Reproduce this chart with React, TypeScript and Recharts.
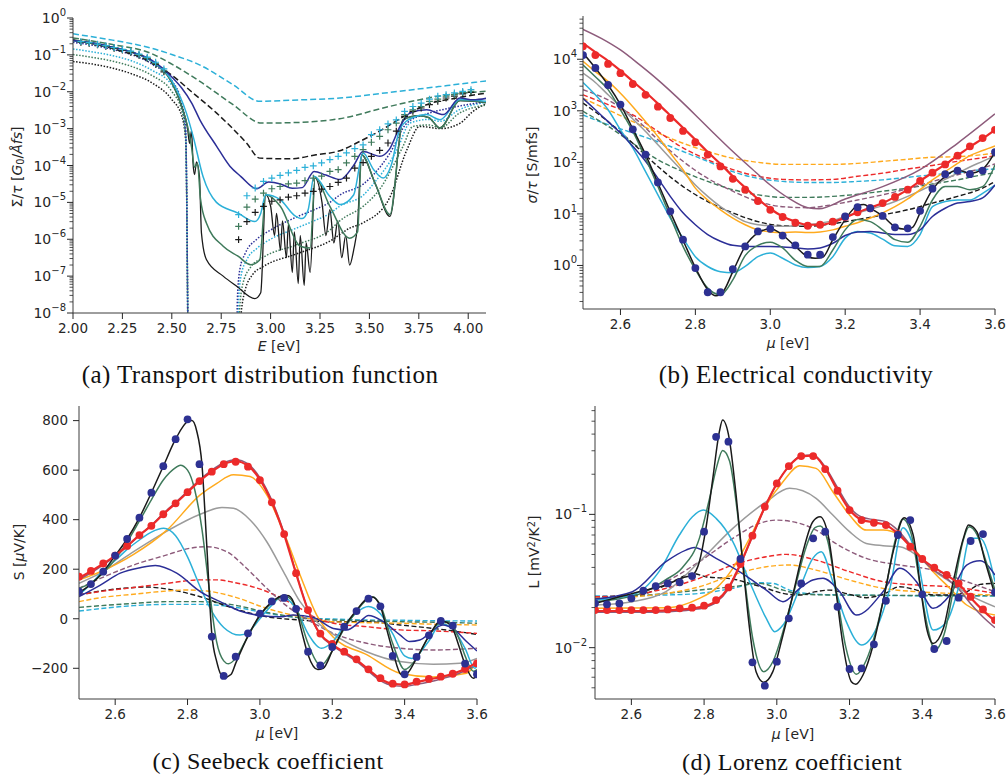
import React from 'react'
import { ComposedChart, Line, XAxis, YAxis } from 'recharts'

type Pt = [number, number]

// shared chemical-potential grid of the marker series (b, c, d)
const MU = [2.5, 2.533, 2.567, 2.6, 2.633, 2.667, 2.7, 2.733, 2.767, 2.8, 2.833, 2.867, 2.9, 2.933, 2.967, 3.0, 3.033, 3.067, 3.1, 3.133, 3.167, 3.2, 3.233, 3.267, 3.3, 3.333, 3.367, 3.4, 3.433, 3.467, 3.5, 3.533, 3.567, 3.6]
// coarser grid for the dashed curves of (b)
const MU_DASH = [2.5, 2.567, 2.633, 2.7, 2.767, 2.833, 2.9, 2.967, 3.033, 3.1, 3.167, 3.233, 3.3, 3.367, 3.433, 3.5, 3.567, 3.6]

// ---------- (a) transport distribution function, log10(Σ/τ) ----------
const aPlusE = [2.04, 2.082, 2.124, 2.166, 2.208, 2.25, 2.292, 2.334, 2.376, 2.418, 2.46, 2.838, 2.88, 2.922, 2.964, 3.006, 3.048, 3.09, 3.132, 3.174, 3.216, 3.258, 3.3, 3.342, 3.384, 3.426, 3.468, 3.51, 3.552, 3.594, 3.636, 3.678, 3.72, 3.762, 3.804, 3.846, 3.888, 3.93, 3.972, 4.014]
const aCyanPlus = [-0.64, -0.67, -0.71, -0.75, -0.8, -0.85, -0.9, -0.98, -1.06, -1.2, -1.38, -5.33, -4.82, -4.61, -4.43, -4.34, -4.27, -4.2, -4.13, -4.05, -4.01, -3.93, -3.84, -3.75, -3.66, -3.54, -3.44, -3.16, -3.03, -2.87, -2.76, -2.53, -2.4, -2.31, -2.2, -2.12, -2.08, -2.03, -1.99, -1.94]
const aGreenPlus = [-0.65, -0.68, -0.72, -0.76, -0.81, -0.86, -0.92, -1.0, -1.09, -1.24, -1.43, -5.65, -5.13, -4.91, -4.75, -4.63, -4.57, -4.5, -4.48, -4.41, -4.34, -4.29, -4.16, -4.11, -3.93, -3.75, -3.57, -3.37, -3.21, -3.03, -2.85, -2.62, -2.49, -2.4, -2.26, -2.2, -2.12, -2.08, -2.02, -1.99]
const aBlackPlus = [-0.66, -0.69, -0.73, -0.77, -0.82, -0.87, -0.93, -1.01, -1.1, -1.26, -1.46, -6.01, -5.52, -5.27, -5.11, -4.97, -4.93, -4.86, -4.82, -4.75, -4.7, -4.64, -4.57, -4.46, -4.34, -4.07, -3.92, -3.75, -3.59, -3.39, -3.07, -2.67, -2.53, -2.44, -2.35, -2.26, -2.17, -2.12, -2.06, -2.02]

const aCyanDash: Pt[] = [[2.0, -0.43], [2.2, -0.6], [2.39, -0.81], [2.5, -0.99], [2.64, -1.27], [2.81, -1.81], [2.945, -2.26], [3.1, -2.23], [3.35, -2.17], [3.6, -2.02], [3.85, -1.86], [4.1, -1.7]]
const aGreenDash: Pt[] = [[2.0, -0.54], [2.2, -0.72], [2.39, -0.95], [2.5, -1.25], [2.642, -1.72], [2.81, -2.35], [2.955, -2.85], [3.15, -2.83], [3.35, -2.73], [3.6, -2.4], [3.85, -2.12], [4.1, -1.98]]
const aBlackDash: Pt[] = [[2.0, -0.59], [2.2, -0.83], [2.39, -1.18], [2.5, -1.55], [2.6, -2.0], [2.727, -2.58], [2.878, -3.39], [2.945, -3.8], [3.097, -3.82], [3.23, -3.71], [3.35, -3.6], [3.45, -3.35], [3.55, -3.07], [3.69, -2.62], [3.79, -2.35], [3.94, -2.17], [4.1, -2.03]]

const aNavy: Pt[] = [[2.0, -0.61], [2.1, -0.68], [2.2, -0.79], [2.3, -0.93], [2.4, -1.15], [2.5, -1.6], [2.55, -1.9], [2.6, -2.3], [2.642, -2.76], [2.727, -3.48], [2.794, -4.02], [2.85, -4.3], [2.93, -4.63], [2.99, -4.45], [3.05, -4.5], [3.11, -4.62], [3.16, -4.6], [3.22, -4.16], [3.28, -4.26], [3.352, -4.38], [3.42, -4.0], [3.468, -3.62], [3.553, -3.75], [3.6, -3.57], [3.655, -2.94], [3.705, -2.58], [3.79, -2.49], [3.874, -2.62], [3.958, -2.17], [4.025, -2.22], [4.1, -2.17]]
const aCyan: Pt[] = [[2.0, -0.61], [2.1, -0.68], [2.2, -0.79], [2.3, -0.93], [2.4, -1.17], [2.5, -1.7], [2.574, -2.58], [2.608, -3.21], [2.658, -4.3], [2.726, -5.0], [2.835, -5.29], [2.92, -5.52], [2.95, -5.3], [2.975, -4.79], [3.05, -4.93], [3.12, -5.35], [3.16, -5.44], [3.19, -5.2], [3.22, -4.29], [3.3, -4.84], [3.352, -5.06], [3.42, -4.8], [3.468, -3.66], [3.52, -4.1], [3.57, -4.34], [3.61, -4.0], [3.655, -3.0], [3.72, -2.7], [3.79, -2.62], [3.857, -2.76], [3.958, -2.21], [4.1, -2.26]]
const aGreen: Pt[] = [[2.0, -0.61], [2.1, -0.68], [2.2, -0.79], [2.3, -0.93], [2.4, -1.18], [2.5, -1.75], [2.55, -2.4], [2.58, -2.94], [2.6, -3.5], [2.615, -4.05], [2.63, -3.95], [2.645, -4.9], [2.675, -5.56], [2.76, -6.19], [2.835, -6.46], [2.9, -6.69], [2.945, -6.56], [2.975, -4.79], [3.05, -5.11], [3.15, -6.19], [3.2, -6.24], [3.225, -4.34], [3.3, -5.11], [3.4, -5.97], [3.44, -5.8], [3.46, -3.71], [3.53, -4.5], [3.604, -5.33], [3.67, -2.76], [3.75, -2.65], [3.8, -2.7], [3.857, -2.98], [3.958, -2.24], [4.1, -2.3]]
const aBlack: Pt[] = [[2.0, -0.61], [2.1, -0.68], [2.2, -0.79], [2.3, -0.93], [2.4, -1.18], [2.5, -1.75], [2.55, -2.4], [2.58, -3.0], [2.59, -3.4], [2.6, -3.05], [2.607, -3.9], [2.615, -4.25], [2.625, -3.9], [2.64, -4.3], [2.65, -5.83], [2.675, -6.55], [2.76, -7.0], [2.83, -7.28], [2.92, -7.61], [2.95, -7.45], [2.975, -4.79], [3.0, -5.1], [3.02, -5.9], [3.03, -5.3], [3.05, -6.3], [3.06, -5.5], [3.08, -6.5], [3.09, -5.6], [3.11, -6.9], [3.12, -5.8], [3.14, -7.2], [3.15, -5.9], [3.17, -7.25], [3.18, -6.1], [3.2, -6.9], [3.225, -4.34], [3.26, -5.0], [3.28, -5.9], [3.3, -5.2], [3.32, -6.1], [3.34, -5.5], [3.36, -6.5], [3.38, -5.9], [3.4, -6.7], [3.42, -6.3], [3.44, -5.6], [3.46, -3.71], [3.53, -4.5], [3.604, -5.38], [3.67, -2.76], [3.75, -2.65], [3.8, -2.7], [3.857, -2.98], [3.958, -2.24], [4.1, -2.3]]

const aNavyDotL: Pt[] = [[2.0, -0.66], [2.1, -0.74], [2.2, -0.85], [2.3, -1.0], [2.4, -1.25], [2.5, -1.7], [2.55, -2.3], [2.57, -3.0], [2.582, -9]]
const aCyanDotL: Pt[] = [[2.0, -0.84], [2.1, -0.92], [2.2, -1.02], [2.3, -1.17], [2.4, -1.42], [2.5, -1.82], [2.55, -2.4], [2.57, -3.1], [2.582, -9]]
const aGreenDotL: Pt[] = [[2.0, -0.99], [2.1, -1.07], [2.2, -1.17], [2.3, -1.32], [2.4, -1.56], [2.5, -1.99], [2.55, -2.5], [2.57, -3.2], [2.582, -9]]
const aBlackDotL: Pt[] = [[2.0, -1.18], [2.1, -1.25], [2.2, -1.36], [2.3, -1.52], [2.4, -1.76], [2.5, -2.21], [2.55, -2.65], [2.57, -3.3], [2.582, -9]]
const aNavyDotR: Pt[] = [[2.828, -9], [2.832, -7.6], [2.845, -6.8], [2.87, -6.4], [2.93, -6.0], [3.0, -5.75], [3.13, -5.4], [3.22, -5.2], [3.3, -5.0], [3.35, -4.8], [3.47, -4.5], [3.52, -4.25], [3.6, -3.7], [3.69, -2.85], [3.79, -2.6], [3.9, -2.45], [4.1, -2.26]]
const aCyanDotR: Pt[] = [[2.833, -9], [2.837, -7.8], [2.85, -7.0], [2.88, -6.55], [2.93, -6.25], [3.0, -6.0], [3.13, -5.7], [3.22, -5.5], [3.3, -5.3], [3.35, -5.1], [3.47, -4.8], [3.52, -4.5], [3.64, -3.57], [3.705, -2.85], [3.8, -2.75], [3.86, -2.8], [3.95, -2.5], [4.1, -2.28]]
const aGreenDotR: Pt[] = [[2.838, -9], [2.842, -8.0], [2.86, -7.2], [2.9, -6.75], [2.96, -6.5], [3.13, -6.15], [3.3, -5.75], [3.35, -5.5], [3.47, -5.1], [3.55, -4.66], [3.67, -3.48], [3.72, -2.94], [3.8, -2.9], [3.86, -2.98], [3.95, -2.6], [4.1, -2.35]]
const aBlackDotR: Pt[] = [[2.843, -9], [2.848, -8.2], [2.87, -7.4], [2.91, -6.95], [2.96, -6.75], [3.13, -6.4], [3.3, -6.05], [3.4, -5.7], [3.47, -5.55], [3.6, -4.9], [3.69, -3.57], [3.755, -2.94], [3.86, -3.0], [3.96, -2.85], [4.02, -2.55], [4.1, -2.3]]

// ---------- (b) electrical conductivity, log10(σ/τ) ----------
const bRedDots = [4.25, 4.08, 3.91, 3.73, 3.52, 3.31, 3.08, 2.86, 2.61, 2.39, 2.15, 1.92, 1.68, 1.47, 1.25, 1.08, 0.94, 0.83, 0.77, 0.79, 0.85, 0.94, 1.03, 1.11, 1.21, 1.33, 1.47, 1.64, 1.8, 1.96, 2.13, 2.31, 2.47, 2.63]
const bNavyDots = [4.08, 3.83, 3.5, 3.12, 2.64, 2.15, 1.61, 1.05, 0.5, -0.05, -0.52, -0.52, -0.07, 0.37, 0.66, 0.71, 0.58, 0.39, 0.21, 0.21, 0.55, 0.95, 1.13, 1.11, 0.96, 0.74, 0.72, 1.06, 1.49, 1.77, 1.84, 1.77, 1.84, 2.2]
const bRed = [4.31, 4.14, 3.97, 3.78, 3.57, 3.36, 3.14, 2.91, 2.67, 2.44, 2.2, 1.97, 1.73, 1.51, 1.29, 1.1, 0.95, 0.85, 0.79, 0.79, 0.84, 0.93, 1.03, 1.12, 1.21, 1.33, 1.47, 1.64, 1.8, 1.96, 2.13, 2.3, 2.46, 2.63]
const bGreen = [3.89, 3.66, 3.41, 3.02, 2.6, 2.08, 1.53, 0.95, 0.37, -0.08, -0.44, -0.57, -0.28, 0.19, 0.39, 0.45, 0.34, 0.1, -0.02, -0.02, 0.3, 0.69, 0.89, 0.85, 0.69, 0.5, 0.45, 0.76, 1.27, 1.53, 1.53, 1.47, 1.53, 1.95]
const bCyan = [3.55, 3.31, 3.02, 2.63, 2.28, 1.82, 1.37, 0.92, 0.53, 0.17, -0.02, -0.12, -0.14, -0.02, 0.17, 0.24, 0.14, 0.01, -0.04, -0.02, 0.17, 0.53, 0.66, 0.63, 0.51, 0.38, 0.37, 0.6, 1.14, 1.24, 1.27, 1.27, 1.4, 1.56]
const bNavy = [3.24, 3.02, 2.79, 2.57, 2.31, 2.02, 1.69, 1.34, 1.02, 0.79, 0.6, 0.47, 0.39, 0.37, 0.37, 0.37, 0.36, 0.34, 0.32, 0.34, 0.43, 0.58, 0.65, 0.66, 0.63, 0.6, 0.6, 0.69, 0.95, 1.11, 1.21, 1.24, 1.31, 1.56]
const bOrange = [3.96, 3.76, 3.57, 3.34, 3.08, 2.79, 2.5, 2.18, 1.86, 1.5, 1.27, 1.08, 0.92, 0.79, 0.69, 0.65, 0.64, 0.65, 0.64, 0.65, 0.69, 0.76, 0.83, 0.92, 1.02, 1.14, 1.29, 1.47, 1.66, 1.82, 1.98, 2.13, 2.23, 2.32]
const bGray = [3.73, 3.55, 3.31, 3.08, 2.84, 2.6, 2.34, 2.08, 1.82, 1.56, 1.34, 1.14, 0.98, 0.85, 0.79, 0.77, 0.76, 0.77, 0.79, 0.82, 0.87, 0.95, 1.02, 1.09, 1.16, 1.24, 1.34, 1.45, 1.56, 1.67, 1.79, 1.91, 2.02, 2.13]
const bBlack: Pt[] = [[2.5, 4.12], [2.533, 3.83], [2.567, 3.5], [2.6, 3.12], [2.633, 2.65], [2.667, 2.15], [2.7, 1.6], [2.733, 1.04], [2.767, 0.49], [2.8, -0.04], [2.833, -0.47], [2.855, -0.59], [2.875, -0.5], [2.9, -0.12], [2.933, 0.37], [2.967, 0.63], [3.0, 0.71], [3.033, 0.59], [3.067, 0.37], [3.1, 0.17], [3.12, 0.14], [3.14, 0.16], [3.167, 0.5], [3.2, 0.89], [3.233, 1.16], [3.25, 1.18], [3.267, 1.11], [3.3, 0.96], [3.333, 0.75], [3.36, 0.7], [3.38, 0.74], [3.4, 1.02], [3.433, 1.47], [3.467, 1.73], [3.5, 1.85], [3.533, 1.79], [3.567, 1.87], [3.6, 2.2]]
const bMauve: Pt[] = [[2.5, 4.58], [2.55, 4.4], [2.6, 4.18], [2.65, 3.9], [2.7, 3.6], [2.75, 3.27], [2.8, 2.92], [2.85, 2.56], [2.9, 2.21], [2.95, 1.88], [3.0, 1.56], [3.05, 1.3], [3.1, 1.12], [3.13, 1.1], [3.2, 1.29], [3.3, 1.53], [3.4, 1.86], [3.5, 2.37], [3.6, 2.94]]
const bOrangeDash = [3.24, 3.02, 2.79, 2.57, 2.37, 2.21, 2.08, 2.0, 1.96, 1.96, 1.96, 1.98, 2.02, 2.06, 2.1, 2.11, 2.15, 2.18]
const bRedDash = [3.31, 3.12, 2.92, 2.6, 2.28, 2.05, 1.86, 1.73, 1.67, 1.66, 1.67, 1.73, 1.79, 1.87, 1.94, 2.02, 2.09, 2.13]
const bCyanDash = [2.92, 2.73, 2.57, 2.4, 2.21, 2.02, 1.82, 1.69, 1.63, 1.61, 1.61, 1.63, 1.66, 1.71, 1.76, 1.8, 1.86, 1.87]
const bMauveDash = [3.41, 3.21, 2.89, 2.44, 2.02, 1.69, 1.44, 1.24, 1.14, 1.12, 1.18, 1.27, 1.37, 1.49, 1.63, 1.76, 1.89, 1.97]
const bGreenDash = [2.99, 2.7, 2.37, 2.05, 1.82, 1.63, 1.47, 1.37, 1.32, 1.32, 1.34, 1.38, 1.44, 1.5, 1.58, 1.66, 1.76, 1.8]
const bBlackDash = [3.15, 2.79, 2.37, 1.92, 1.53, 1.24, 1.02, 0.85, 0.77, 0.76, 0.81, 0.89, 0.98, 1.08, 1.21, 1.34, 1.5, 1.63]

// ---------- (c) Seebeck coefficient, μV/K ----------
const cNavyDots = [110, 140, 190, 255, 322, 408, 509, 616, 725, 805, 624, -72, -231, -153, -59, 21, 70, 84, 40, -133, -188, -114, -32, 31, 81, 50, -150, -224, -154, -67, -9, -28, -181, -224]
const cRedDots = [170, 193, 223, 255, 294, 338, 375, 422, 466, 511, 556, 594, 624, 634, 614, 560, 470, 342, 184, 35, -60, -102, -133, -164, -204, -240, -262, -265, -254, -243, -234, -222, -203, -180]
const cRed = [165, 192, 222, 255, 294, 338, 376, 422, 466, 511, 556, 594, 624, 636, 618, 562, 470, 340, 182, 35, -62, -104, -135, -166, -205, -242, -263, -266, -256, -245, -235, -222, -203, -175]
const cMauve = [158, 185, 218, 252, 292, 336, 378, 425, 470, 515, 560, 600, 630, 642, 625, 570, 478, 345, 185, 35, -65, -108, -140, -172, -212, -250, -270, -273, -265, -255, -243, -230, -210, -185]
const cBlack: Pt[] = [[2.5, 105], [2.533, 140], [2.567, 190], [2.6, 255], [2.633, 322], [2.667, 408], [2.7, 509], [2.733, 616], [2.767, 725], [2.8, 796], [2.812, 800], [2.825, 760], [2.84, 620], [2.853, 300], [2.867, -60], [2.881, -175], [2.9, -238], [2.92, -225], [2.933, -180], [2.967, -70], [3.0, 15], [3.033, 68], [3.067, 95], [3.08, 93], [3.1, 40], [3.117, -60], [3.133, -145], [3.16, -205], [3.175, -200], [3.2, -130], [3.233, -35], [3.267, 35], [3.3, 85], [3.31, 88], [3.333, 50], [3.35, -40], [3.367, -130], [3.39, -225], [3.4, -228], [3.433, -160], [3.467, -70], [3.5, -8], [3.517, -15], [3.533, -40], [3.55, -110], [3.567, -185], [3.59, -240], [3.6, -232]]
const cGreen: Pt[] = [[2.5, 123], [2.533, 145], [2.567, 185], [2.6, 240], [2.633, 310], [2.667, 395], [2.7, 480], [2.733, 560], [2.767, 610], [2.78, 620], [2.8, 600], [2.82, 520], [2.84, 360], [2.86, 120], [2.88, -90], [2.9, -170], [2.913, -182], [2.933, -160], [2.967, -70], [3.0, 12], [3.033, 65], [3.07, 92], [3.1, 45], [3.133, -100], [3.16, -180], [3.17, -187], [3.2, -130], [3.233, -40], [3.267, 30], [3.3, 82], [3.313, 88], [3.333, 55], [3.367, -100], [3.4, -205], [3.433, -160], [3.467, -70], [3.5, -14], [3.52, -12], [3.55, -80], [3.567, -150], [3.59, -212], [3.6, -205]]
const cCyan: Pt[] = [[2.5, 96], [2.533, 140], [2.567, 195], [2.6, 235], [2.633, 280], [2.667, 318], [2.7, 350], [2.734, 365], [2.767, 335], [2.8, 250], [2.833, 135], [2.867, 30], [2.9, -35], [2.945, -66], [2.967, -55], [3.0, 0], [3.033, 55], [3.06, 89], [3.1, 40], [3.133, -60], [3.17, -119], [3.2, -95], [3.233, -30], [3.267, 25], [3.3, 49], [3.333, 20], [3.367, -60], [3.4, -150], [3.42, -160], [3.467, -90], [3.5, -20], [3.533, -40], [3.567, -120], [3.594, -200], [3.6, -190]]
const cNavy: Pt[] = [[2.5, 89], [2.559, 136], [2.614, 184], [2.669, 206], [2.711, 215], [2.77, 184], [2.835, 110], [2.89, 69], [2.945, 31], [3.0, 13], [3.056, 8], [3.092, 15], [3.148, 5], [3.203, -39], [3.24, -45], [3.276, -12], [3.3, 13], [3.341, -12], [3.387, -65], [3.414, -92], [3.442, -86], [3.479, -45], [3.506, -25], [3.534, -40], [3.571, -92], [3.6, -130]]
const cOrange: Pt[] = [[2.5, 157], [2.559, 190], [2.651, 260], [2.743, 358], [2.835, 500], [2.881, 547], [2.927, 581], [2.973, 574], [3.019, 500], [3.065, 352], [3.111, 177], [3.157, 15], [3.203, -75], [3.295, -145], [3.387, -220], [3.479, -235], [3.571, -220], [3.6, -173]]
const cGray: Pt[] = [[2.5, 143], [2.559, 184], [2.651, 271], [2.743, 354], [2.835, 422], [2.895, 449], [2.927, 446], [2.973, 399], [3.019, 311], [3.065, 190], [3.111, 69], [3.157, -12], [3.203, -63], [3.295, -133], [3.387, -173], [3.479, -184], [3.552, -180], [3.6, -160]]
const cMauveDash: Pt[] = [[2.5, 123], [2.559, 163], [2.651, 217], [2.743, 258], [2.798, 282], [2.853, 291], [2.908, 271], [2.963, 204], [3.019, 123], [3.065, 62], [3.111, 15], [3.157, -25], [3.203, -59], [3.295, -99], [3.387, -119], [3.479, -126], [3.6, -119]]
const cRedDash: Pt[] = [[2.5, 96], [2.559, 110], [2.651, 126], [2.743, 143], [2.835, 157], [2.881, 157], [2.927, 147], [3.019, 110], [3.111, 42], [3.157, 2], [3.203, -18], [3.295, -32], [3.387, -45], [3.479, -49], [3.6, -59]]
const cBlackDash: Pt[] = [[2.5, 96], [2.559, 112], [2.651, 126], [2.688, 128], [2.743, 120], [2.835, 89], [2.927, 42], [3.019, 8], [3.111, -5], [3.203, -12], [3.295, -12], [3.387, -25], [3.479, -39], [3.6, -63]]
const cOrangeDash: Pt[] = [[2.5, 69], [2.559, 85], [2.651, 99], [2.743, 112], [2.798, 116], [2.853, 112], [2.927, 89], [3.019, 42], [3.111, 8], [3.203, -12], [3.295, -16], [3.387, -18], [3.479, -22], [3.6, -25]]
const cGreenDash: Pt[] = [[2.5, 46], [2.651, 62], [2.743, 69], [2.835, 69], [2.927, 56], [3.019, 26], [3.111, 4], [3.203, -5], [3.295, -8], [3.387, -12], [3.479, -14], [3.6, -18]]
const cCyanDash: Pt[] = [[2.5, 31], [2.651, 53], [2.743, 58], [2.835, 58], [2.927, 48], [3.019, 22], [3.111, 4], [3.203, -1], [3.295, -5], [3.387, -6], [3.479, -8], [3.6, -9]]

// ---------- (d) Lorenz coefficient, log10(L) ----------
const dNavyDots = [-1.668, -1.675, -1.668, -1.63, -1.573, -1.538, -1.518, -1.51, -1.463, -1.13, -0.418, -0.455, -1.335, -2.11, -2.285, -2.105, -1.78, -1.518, -1.18, -1.13, -1.693, -2.16, -2.155, -1.975, -1.648, -1.155, -1.043, -1.6, -2.01, -1.95, -1.625, -1.2, -1.148, -1.585]
const dRedDots = [-1.718, -1.718, -1.718, -1.718, -1.718, -1.718, -1.713, -1.705, -1.7, -1.685, -1.643, -1.548, -1.373, -1.16, -0.943, -0.768, -0.638, -0.563, -0.563, -0.66, -0.823, -0.968, -1.043, -1.063, -1.08, -1.148, -1.243, -1.335, -1.4, -1.455, -1.518, -1.618, -1.713, -1.793]
const dRed = [-1.725, -1.725, -1.725, -1.725, -1.725, -1.723, -1.72, -1.715, -1.705, -1.69, -1.65, -1.55, -1.37, -1.16, -0.945, -0.77, -0.64, -0.565, -0.56, -0.655, -0.82, -0.965, -1.04, -1.06, -1.08, -1.145, -1.24, -1.335, -1.4, -1.455, -1.52, -1.625, -1.72, -1.8]
const dMauve = [-1.735, -1.735, -1.735, -1.735, -1.735, -1.733, -1.73, -1.725, -1.715, -1.7, -1.66, -1.56, -1.38, -1.165, -0.95, -0.77, -0.64, -0.56, -0.555, -0.645, -0.8, -0.945, -1.02, -1.04, -1.055, -1.12, -1.23, -1.34, -1.42, -1.48, -1.56, -1.67, -1.77, -1.85]
const dBlack: Pt[] = [[2.5, -1.668], [2.621, -1.58], [2.695, -1.53], [2.741, -1.475], [2.768, -1.455], [2.787, -1.355], [2.805, -1.105], [2.824, -0.73], [2.842, -0.38], [2.851, -0.293], [2.869, -0.43], [2.888, -0.855], [2.906, -1.355], [2.925, -1.855], [2.943, -2.18], [2.964, -2.26], [2.989, -2.18], [3.017, -1.905], [3.044, -1.605], [3.072, -1.28], [3.099, -1.055], [3.119, -1.018], [3.141, -1.155], [3.164, -1.605], [3.182, -1.98], [3.205, -2.255], [3.217, -2.275], [3.237, -2.205], [3.265, -1.98], [3.292, -1.655], [3.32, -1.28], [3.35, -1.025], [3.375, -1.155], [3.393, -1.505], [3.412, -1.855], [3.43, -1.968], [3.458, -1.855], [3.485, -1.505], [3.513, -1.18], [3.527, -1.08], [3.55, -1.13], [3.573, -1.355], [3.6, -1.605]]
const dGreen: Pt[] = [[2.5, -1.655], [2.62, -1.6], [2.695, -1.49], [2.74, -1.4], [2.787, -1.18], [2.815, -0.88], [2.835, -0.64], [2.851, -0.52], [2.87, -0.6], [2.89, -0.95], [2.91, -1.45], [2.935, -1.95], [2.964, -2.18], [2.99, -2.1], [3.02, -1.85], [3.05, -1.55], [3.08, -1.25], [3.105, -1.1], [3.12, -1.088], [3.14, -1.2], [3.165, -1.6], [3.19, -2.0], [3.219, -2.2], [3.245, -2.1], [3.27, -1.9], [3.3, -1.55], [3.325, -1.2], [3.347, -1.035], [3.37, -1.15], [3.395, -1.55], [3.415, -1.85], [3.435, -2.018], [3.46, -1.9], [3.49, -1.5], [3.512, -1.2], [3.529, -1.093], [3.55, -1.15], [3.575, -1.35], [3.6, -1.568]]
const dCyan: Pt[] = [[2.5, -1.643], [2.603, -1.605], [2.676, -1.43], [2.732, -1.155], [2.768, -1.018], [2.798, -0.968], [2.833, -1.03], [2.879, -1.205], [2.925, -1.505], [2.971, -1.78], [2.994, -1.88], [3.017, -1.83], [3.063, -1.555], [3.099, -1.33], [3.122, -1.28], [3.154, -1.505], [3.191, -1.805], [3.233, -1.98], [3.274, -1.855], [3.311, -1.555], [3.347, -1.1], [3.384, -1.305], [3.43, -1.868], [3.467, -1.805], [3.504, -1.505], [3.531, -1.18], [3.559, -1.18], [3.6, -1.505]]
const dNavy: Pt[] = [[2.5, -1.635], [2.603, -1.58], [2.695, -1.355], [2.75, -1.268], [2.773, -1.248], [2.833, -1.33], [2.897, -1.43], [2.971, -1.568], [3.017, -1.655], [3.063, -1.555], [3.099, -1.493], [3.127, -1.48], [3.173, -1.58], [3.219, -1.755], [3.292, -1.58], [3.338, -1.405], [3.384, -1.505], [3.43, -1.705], [3.476, -1.605], [3.522, -1.38], [3.559, -1.348], [3.6, -1.455]]
const dOrange: Pt[] = [[2.5, -1.705], [2.7, -1.7], [2.787, -1.63], [2.833, -1.555], [2.879, -1.405], [2.925, -1.18], [2.971, -0.93], [3.017, -0.755], [3.063, -0.635], [3.108, -0.655], [3.154, -0.83], [3.2, -1.005], [3.246, -1.118], [3.292, -1.118], [3.338, -1.155], [3.384, -1.28], [3.43, -1.43], [3.476, -1.555], [3.522, -1.68], [3.6, -1.755]]
const dGray: Pt[] = [[2.5, -1.68], [2.603, -1.655], [2.695, -1.58], [2.787, -1.355], [2.879, -1.105], [2.971, -0.905], [3.035, -0.805], [3.108, -0.88], [3.154, -1.005], [3.2, -1.13], [3.246, -1.218], [3.292, -1.235], [3.338, -1.243], [3.384, -1.305], [3.43, -1.418], [3.476, -1.505], [3.522, -1.593], [3.6, -1.693]]
const dMauveDash: Pt[] = [[2.5, -1.63], [2.603, -1.605], [2.695, -1.505], [2.787, -1.355], [2.879, -1.18], [2.952, -1.068], [2.998, -1.043], [3.063, -1.068], [3.108, -1.118], [3.154, -1.205], [3.246, -1.33], [3.338, -1.38], [3.43, -1.418], [3.522, -1.505], [3.6, -1.58]]
const dRedDash: Pt[] = [[2.5, -1.618], [2.603, -1.605], [2.695, -1.555], [2.787, -1.48], [2.879, -1.38], [2.971, -1.318], [3.026, -1.3], [3.108, -1.343], [3.2, -1.43], [3.292, -1.505], [3.384, -1.53], [3.476, -1.543], [3.6, -1.593]]
const dOrangeDash: Pt[] = [[2.5, -1.625], [2.603, -1.618], [2.695, -1.593], [2.787, -1.543], [2.879, -1.455], [2.971, -1.393], [3.035, -1.38], [3.108, -1.418], [3.2, -1.493], [3.292, -1.555], [3.384, -1.58], [3.476, -1.593], [3.6, -1.605]]
const dBlackDash: Pt[] = [[2.5, -1.618], [2.603, -1.613], [2.676, -1.555], [2.722, -1.493], [2.768, -1.443], [2.805, -1.468], [2.879, -1.485], [2.925, -1.518], [2.971, -1.555], [3.017, -1.593], [3.063, -1.605], [3.108, -1.58], [3.145, -1.568], [3.2, -1.6], [3.246, -1.625], [3.292, -1.6], [3.338, -1.543], [3.384, -1.568], [3.43, -1.605], [3.476, -1.605], [3.522, -1.58], [3.559, -1.525], [3.6, -1.518]]
const dGreenDash: Pt[] = [[2.5, -1.618], [2.603, -1.613], [2.695, -1.593], [2.787, -1.568], [2.879, -1.543], [2.952, -1.518], [3.017, -1.568], [3.063, -1.598], [3.154, -1.605], [3.6, -1.61]]
const dCyanDash: Pt[] = [[2.5, -1.613], [2.603, -1.61], [2.695, -1.605], [2.787, -1.593], [2.879, -1.555], [2.952, -1.513], [2.989, -1.518], [3.035, -1.568], [3.108, -1.6], [3.2, -1.605], [3.6, -1.613]]

// ---------- styling ----------
const FONT = '"DejaVu Sans", sans-serif'
const SERIF = '"Liberation Serif", "DejaVu Serif", serif'
const INK = '#262626'
const SPINE = '#3c3c3c'

const C = {
  black: '#1a1a1a',
  green: '#3f7a5b',
  cyan: '#2cb0d8',
  navy: '#2b2e97',
  red: '#ec2a2a',
  mauve: '#8d5b7b',
  orange: '#ffaa1d',
  gray: '#9b9b9b',
  dot: '#2d3192',
}

type Row = { x: number; y: number }
const lin = (p: Pt[]): Row[] => p.map(([x, y]) => ({ x, y }))
const dec = (p: Pt[]): Row[] => p.map(([x, e]) => ({ x, y: Math.pow(10, e) }))
const zipLin = (xs: number[], ys: number[]): Row[] => xs.map((x, i) => ({ x, y: ys[i] }))
const zipDec = (xs: number[], es: number[]): Row[] => xs.map((x, i) => ({ x, y: Math.pow(10, es[i]) }))

interface Series {
  data: Row[]
  color: string
  dash?: string
  width?: number
  marker?: 'dot' | 'plus'
}

const DASH = '5 2.5'
const DASH_A = '6 3'
const DOT = '1.5 1.6'

function logTicks(lo: number, hi: number) {
  const out: number[] = []
  for (let d = Math.floor(Math.log10(lo)); d <= Math.ceil(Math.log10(hi)); d++) {
    for (let m = 1; m <= 9; m++) {
      const v = m * Math.pow(10, d)
      if (v >= lo * 0.999 && v <= hi * 1.001) out.push(v)
    }
  }
  return out
}

function LogTick(props: any) {
  const { x, y, payload, gap } = props
  const lg = Math.log10(payload.value)
  const e = Math.round(lg)
  const major = Math.abs(lg - e) < 1e-6
  return (
    <g>
      <line x1={x} x2={x - (major ? 6 : 3.5)} y1={y} y2={y} stroke={INK} strokeWidth={major ? 1 : 0.8} />
      {major && (
        <text x={x - gap} y={y} textAnchor="end" fill={INK} fontFamily={FONT} fontSize={14}>
          <tspan dy={5}>10</tspan>
          <tspan dy={-7} fontSize={10}>{e < 0 ? '\u2212' + -e : String(e)}</tspan>
        </text>
      )}
    </g>
  )
}

function Plus(props: any) {
  const { cx, cy, color } = props
  if (cx == null || cy == null || !isFinite(cy)) return <g />
  const h = 3.4
  return <path d={`M${cx - h},${cy}H${cx + h}M${cx},${cy - h}V${cy + h}`} stroke={color} strokeWidth={1.2} fill="none" />
}

interface PanelProps {
  left: number
  top: number
  width: number
  height: number
  plot: [number, number, number, number]
  xDomain: [number, number]
  xTicks: number[]
  xDigits: number
  yDomain: [number, number]
  yTicks: number[]
  log: boolean
  gap?: number
  series: Series[]
}

function Panel(p: PanelProps) {
  const [pl, pt, pr, pb] = p.plot
  return (
    <div style={{ position: 'absolute', left: p.left, top: p.top }}>
      <ComposedChart width={p.width} height={p.height} margin={{ top: pt, right: p.width - pr, bottom: 0, left: 0 }}>
        <XAxis
          dataKey="x"
          type="number"
          domain={p.xDomain}
          ticks={p.xTicks}
          interval={0}
          allowDataOverflow
          height={p.height - pb}
          tickSize={6}
          tickMargin={4}
          tickFormatter={(v: number) => v.toFixed(p.xDigits)}
          tick={{ fill: INK, fontSize: 13.5, fontFamily: FONT }}
          axisLine={{ stroke: SPINE }}
          tickLine={{ stroke: INK }}
        />
        <XAxis xAxisId="top" orientation="top" dataKey="x" type="number" domain={p.xDomain} allowDataOverflow height={0} tick={false} tickLine={false} axisLine={{ stroke: SPINE }} />
        {p.log ? (
          <YAxis
            type="number"
            scale="log"
            domain={p.yDomain}
            ticks={p.yTicks}
            interval={0}
            allowDataOverflow
            width={pl}
            tickSize={0}
            tickMargin={0}
            tickLine={false}
            axisLine={{ stroke: SPINE }}
            tick={(tp: any) => <LogTick {...tp} gap={p.gap ?? 7} />}
          />
        ) : (
          <YAxis
            type="number"
            domain={p.yDomain}
            ticks={p.yTicks}
            interval={0}
            allowDataOverflow
            width={pl}
            tickSize={6}
            tickMargin={5}
            tickFormatter={(v: number) => (v < 0 ? '\u2212' + -v : String(v))}
            tick={{ fill: INK, fontSize: 13.5, fontFamily: FONT }}
            axisLine={{ stroke: SPINE }}
            tickLine={{ stroke: INK }}
          />
        )}
        <YAxis yAxisId="right" orientation="right" type="number" domain={[0, 1]} width={0} tick={false} tickLine={false} axisLine={{ stroke: SPINE }} />
        {p.series.map((s, i) => (
          <Line
            key={i}
            data={s.data}
            dataKey="y"
            type="monotone"
            stroke={s.marker ? 'none' : s.color}
            strokeWidth={s.width ?? 1.5}
            strokeDasharray={s.dash}
            isAnimationActive={false}
            activeDot={false}
            legendType="none"
            dot={
              s.marker === 'dot'
                ? { r: 3.9, fill: s.color, stroke: 'none' }
                : s.marker === 'plus'
                ? (dp: any) => <Plus key={dp.index} {...dp} color={s.color} />
                : false
            }
          />
        ))}
      </ComposedChart>
    </div>
  )
}

function Txt(props: { x: number; y: number; rotate?: boolean; size: number; serif?: boolean; children: React.ReactNode }) {
  return (
    <div
      style={{
        position: 'absolute',
        left: props.x,
        top: props.y,
        transform: `translate(-50%, -50%)${props.rotate ? ' rotate(-90deg)' : ''}`,
        whiteSpace: 'nowrap',
        fontFamily: props.serif ? SERIF : FONT,
        fontSize: props.size,
        letterSpacing: props.serif ? 0.45 : 0,
        color: props.serif ? '#111' : INK,
        lineHeight: 1,
      }}
    >
      {props.children}
    </div>
  )
}

const sub = { fontSize: '0.7em', verticalAlign: '-0.25em' }
const sup = { fontSize: '0.7em', verticalAlign: '0.45em' }

const seriesA: Series[] = [
  { data: dec(aBlackDotL), color: C.black, dash: DOT },
  { data: dec(aGreenDotL), color: C.green, dash: DOT },
  { data: dec(aCyanDotL), color: C.cyan, dash: DOT },
  { data: dec(aNavyDotL), color: C.navy, dash: DOT },
  { data: dec(aBlackDotR), color: C.black, dash: DOT },
  { data: dec(aGreenDotR), color: C.green, dash: DOT },
  { data: dec(aCyanDotR), color: C.cyan, dash: DOT },
  { data: dec(aNavyDotR), color: C.navy, dash: DOT },
  { data: dec(aBlackDash), color: C.black, dash: DASH_A },
  { data: dec(aGreenDash), color: C.green, dash: DASH_A },
  { data: dec(aCyanDash), color: C.cyan, dash: DASH_A },
  { data: dec(aBlack), color: C.black, width: 1.3 },
  { data: dec(aGreen), color: C.green, width: 1.5 },
  { data: dec(aCyan), color: C.cyan, width: 1.5 },
  { data: dec(aNavy), color: C.navy, width: 1.5 },
  { data: zipDec(aPlusE, aBlackPlus), color: C.black, marker: 'plus' },
  { data: zipDec(aPlusE, aGreenPlus), color: C.green, marker: 'plus' },
  { data: zipDec(aPlusE, aCyanPlus), color: C.cyan, marker: 'plus' },
]

const seriesB: Series[] = [
  { data: zipDec(MU_DASH, bCyanDash), color: C.cyan, dash: DASH, width: 1.4 },
  { data: zipDec(MU_DASH, bGreenDash), color: C.green, dash: DASH, width: 1.4 },
  { data: zipDec(MU_DASH, bBlackDash), color: C.black, dash: DASH, width: 1.4 },
  { data: zipDec(MU_DASH, bOrangeDash), color: C.orange, dash: DASH, width: 1.4 },
  { data: zipDec(MU_DASH, bRedDash), color: C.red, dash: DASH, width: 1.4 },
  { data: zipDec(MU_DASH, bMauveDash), color: C.mauve, dash: DASH, width: 1.4 },
  { data: zipDec(MU, bGray), color: C.gray },
  { data: zipDec(MU, bOrange), color: C.orange },
  { data: dec(bMauve), color: C.mauve },
  { data: zipDec(MU, bCyan), color: C.cyan },
  { data: zipDec(MU, bNavy), color: C.navy },
  { data: zipDec(MU, bGreen), color: C.green },
  { data: dec(bBlack), color: C.black },
  { data: zipDec(MU, bRed), color: C.red, width: 2.2 },
  { data: zipDec(MU, bRedDots), color: C.red, marker: 'dot' },
  { data: zipDec(MU, bNavyDots), color: C.dot, marker: 'dot' },
]

const seriesC: Series[] = [
  { data: lin(cCyanDash), color: C.cyan, dash: DASH, width: 1.4 },
  { data: lin(cGreenDash), color: C.green, dash: DASH, width: 1.4 },
  { data: lin(cBlackDash), color: C.black, dash: DASH, width: 1.4 },
  { data: lin(cOrangeDash), color: C.orange, dash: DASH, width: 1.4 },
  { data: lin(cRedDash), color: C.red, dash: DASH, width: 1.4 },
  { data: lin(cMauveDash), color: C.mauve, dash: DASH, width: 1.4 },
  { data: lin(cGray), color: C.gray },
  { data: lin(cOrange), color: C.orange },
  { data: zipLin(MU, cMauve), color: C.mauve },
  { data: lin(cCyan), color: C.cyan },
  { data: lin(cNavy), color: C.navy },
  { data: lin(cGreen), color: C.green },
  { data: lin(cBlack), color: C.black },
  { data: zipLin(MU, cRed), color: C.red, width: 2.2 },
  { data: zipLin(MU, cRedDots), color: C.red, marker: 'dot' },
  { data: zipLin(MU, cNavyDots), color: C.dot, marker: 'dot' },
]

const seriesD: Series[] = [
  { data: dec(dCyanDash), color: C.cyan, dash: DASH, width: 1.4 },
  { data: dec(dGreenDash), color: C.green, dash: DASH, width: 1.4 },
  { data: dec(dBlackDash), color: C.black, dash: DASH, width: 1.4 },
  { data: dec(dOrangeDash), color: C.orange, dash: DASH, width: 1.4 },
  { data: dec(dRedDash), color: C.red, dash: DASH, width: 1.4 },
  { data: dec(dMauveDash), color: C.mauve, dash: DASH, width: 1.4 },
  { data: dec(dGray), color: C.gray },
  { data: dec(dOrange), color: C.orange },
  { data: zipDec(MU, dMauve), color: C.mauve },
  { data: dec(dCyan), color: C.cyan },
  { data: dec(dNavy), color: C.navy },
  { data: dec(dGreen), color: C.green },
  { data: dec(dBlack), color: C.black },
  { data: zipDec(MU, dRed), color: C.red, width: 2.2 },
  { data: zipDec(MU, dRedDots), color: C.red, marker: 'dot' },
  { data: zipDec(MU, dNavyDots), color: C.dot, marker: 'dot' },
]

const MU_TICKS = [2.6, 2.8, 3.0, 3.2, 3.4, 3.6]
const E_TICKS = [2.0, 2.25, 2.5, 2.75, 3.0, 3.25, 3.5, 3.75, 4.0]

export default function App() {
  return (
    <div style={{ position: 'absolute', left: 0, top: 0, width: 1007, height: 778, background: '#fff', overflow: 'hidden' }}>
      <Panel left={0} top={0} width={500} height={345} plot={[73, 18, 486, 313]} xDomain={[2, 4.09]} xTicks={E_TICKS} xDigits={2}
        yDomain={[1e-8, 1]} yTicks={logTicks(1e-8, 1)} log gap={7} series={seriesA} />
      <Panel left={500} top={0} width={507} height={345} plot={[83, 16, 495, 309]} xDomain={[2.5, 3.6]} xTicks={MU_TICKS} xDigits={1}
        yDomain={[0.143, 69000]} yTicks={logTicks(0.143, 69000)} log gap={6} series={seriesB} />
      <Panel left={0} top={390} width={500} height={345} plot={[79, 16, 477, 309]} xDomain={[2.5, 3.6]} xTicks={MU_TICKS} xDigits={1}
        yDomain={[-324, 859]} yTicks={[-200, 0, 200, 400, 600, 800]} log={false} series={seriesC} />
      <Panel left={500} top={390} width={507} height={345} plot={[95, 16, 495, 309]} xDomain={[2.5, 3.6]} xTicks={MU_TICKS} xDigits={1}
        yDomain={[0.00412, 0.65]} yTicks={logTicks(0.00412, 0.65)} log gap={8} series={seriesD} />

      <Txt x={18} y={167} rotate size={14}>Σ/<i>τ</i> [<i>G</i><span style={sub}>0</span>/<i>Åfs</i>]</Txt>
      <Txt x={279} y={346} size={14}><i>E</i> [eV]</Txt>
      <Txt x={260} y={374} size={25} serif>(a) Transport distribution function</Txt>

      <Txt x={532} y={165} rotate size={14}><i>σ</i>/<i>τ</i> [S/mfs]</Txt>
      <Txt x={788} y={343} size={14}><i>μ</i> [eV]</Txt>
      <Txt x={796} y={374} size={25} serif>(b) Electrical conductivity</Txt>

      <Txt x={19} y={552} rotate size={14}>S [<i>μ</i>V/K]</Txt>
      <Txt x={277} y={733} size={14}><i>μ</i> [eV]</Txt>
      <Txt x={268} y={761} size={24} serif>(c) Seebeck coefficient</Txt>

      <Txt x={534} y={552} rotate size={14}>L [mV<span style={sup}>2</span>/K<span style={sup}>2</span>]</Txt>
      <Txt x={793} y={734} size={14}><i>μ</i> [eV]</Txt>
      <Txt x={792} y={762} size={24} serif>(d) Lorenz coefficient</Txt>
    </div>
  )
}
